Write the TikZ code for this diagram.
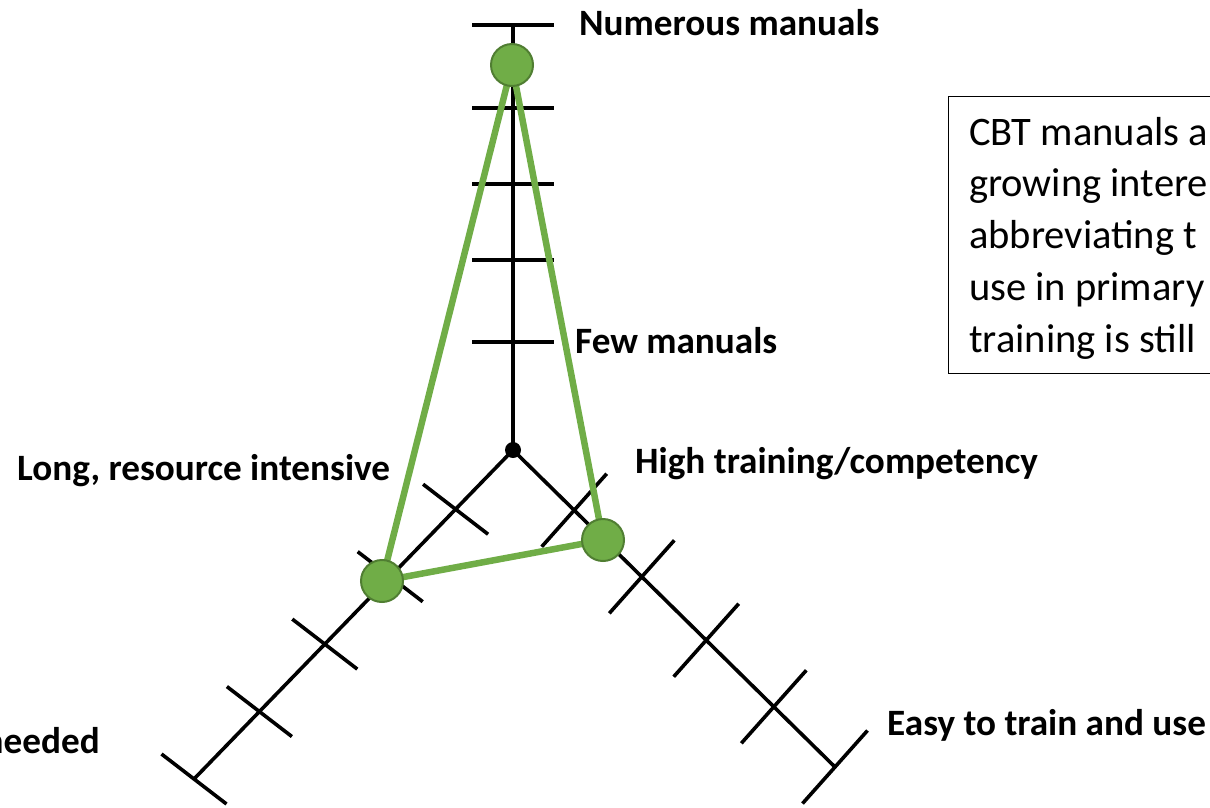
\documentclass[tikz,border=0pt]{standalone}
\usepackage{fontspec}
\setmainfont{Carlito}
\usetikzlibrary{calc,backgrounds}
\definecolor{profgreen}{HTML}{70AD47}
\definecolor{profedge}{HTML}{507E32}
\begin{document}
\begin{tikzpicture}[x=1pt,y=-1pt,
  axisline/.style={line width=3.6pt, black},
  axtick/.style={line width=3.6pt, black},
  profile/.style={line width=6.5pt, profgreen, line join=round},
  score/.style={circle, fill=profgreen, draw=profedge, line width=2pt,
                minimum size=42pt, inner sep=0pt},
  lbl/.style={font=\bfseries\fontsize{37.2}{44}\selectfont, inner sep=0pt},
  notetext/.style={font=\fontsize{40.5}{49}\selectfont, inner sep=0pt, anchor=base west},
]
\useasboundingbox (0,0) rectangle (1210,807);
\clip (0,0) rectangle (1210,807);

% origin of the three axes and their outer ends
\node[circle, fill=black, inner sep=0pt, minimum size=16pt] (c) at (513,450) {};
\coordinate (top) at (513,25);
\coordinate (ll) at (194,779);
\coordinate (lr) at (835,767);

% scores on the three axes
\node[score] (pt) at (512,65) {};
\node[score] (pl) at (382,581) {};
\node[score] (pr) at (603,540) {};

% axis labels
\node[lbl, anchor=base west] (lnum) at (579,35) {Numerous manuals};
\node[lbl, anchor=base west] (lfew) at (575,353) {Few manuals};
\node[lbl, anchor=base west] (llong) at (17,480) {Long, resource intensive};
\node[lbl, anchor=base east] (lneed) at (100,753) {needed};
\node[lbl, anchor=base west] (lhigh) at (635,473) {High training/competency};
\node[lbl, anchor=base west] (leasy) at (887,735) {Easy to train and use};

% side note
\node[draw, line width=1.3pt, anchor=north west, minimum width=300pt,
      minimum height=277pt, inner sep=0pt] (note) at (948,96) {};
\foreach \t [count=\i from 0] in {CBT manuals a, growing intere,
    abbreviating t, use in primary, training is still}
  \node[notetext] (n\i) at (969,145+51.75*\i) {\t};

\begin{scope}[on background layer]
  % axes
  \draw[axisline] (c.center) -- (top);
  \draw[axisline] (c.center) -- (ll);
  \draw[axisline] (c.center) -- (lr);
  % tick marks
  \foreach \f in {0.254,0.447,0.626,0.805,1.0}
    \draw[axtick] ($(c.center)!\f!(top)$) ++(-41,0) -- ++(82,0);
  \foreach \f in {0.18,0.385,0.59,0.795,1.0}
    \draw[axtick] ($(c.center)!\f!(ll)$) ++(-32.5,-25) -- ++(65,50);
  \foreach \f in {0.19,0.4,0.6,0.81,1.0}
    \draw[axtick] ($(c.center)!\f!(lr)$) ++(-32.5,36.5) -- ++(65,-73);
  % profile joining the scores
  \draw[profile] (pt.center) -- (pl.center) -- (pr.center) -- cycle;
\end{scope}
\end{tikzpicture}
\end{document}
